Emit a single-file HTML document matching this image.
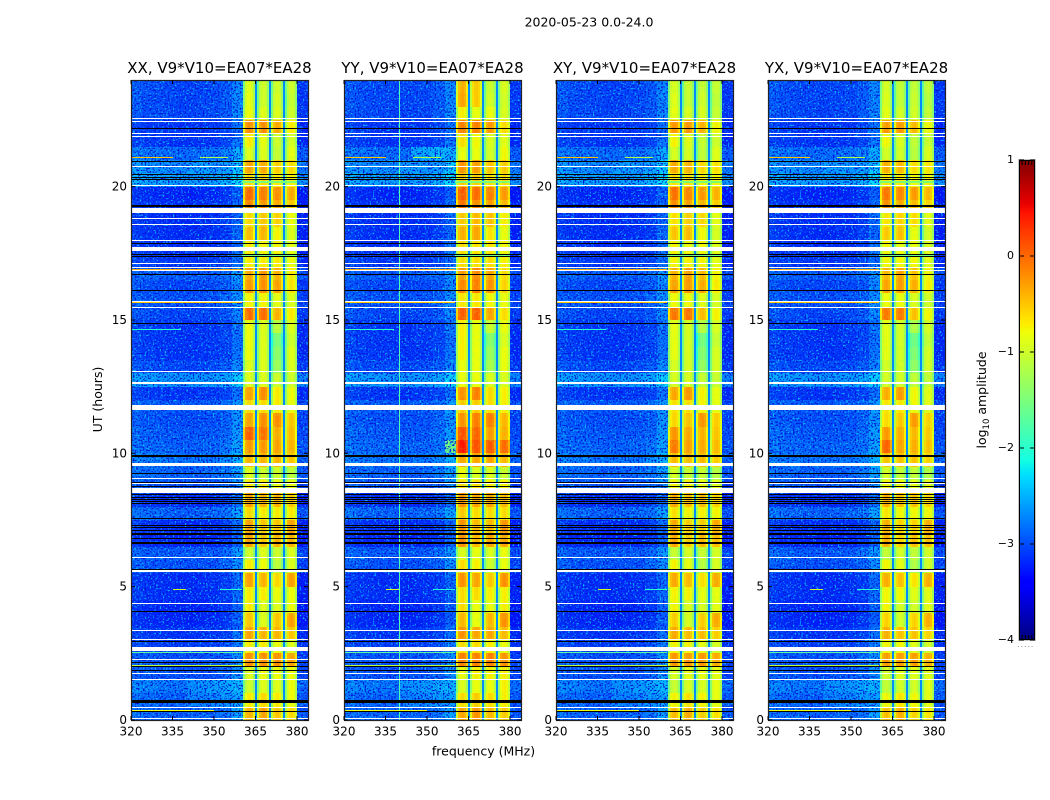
<!DOCTYPE html>
<html lang="en">
<head>
<meta charset="utf-8">
<title>2020-05-23 spectrogram</title>
<style>
html,body{margin:0;padding:0;background:#fff;}
#chart{display:block;width:1050px;height:800px;}
text{font-family:"DejaVu Sans","Liberation Sans",sans-serif;fill:#000;}
</style>
</head>
<body>
<svg id="chart" xmlns="http://www.w3.org/2000/svg" width="1050" height="800" viewBox="0 0 1050 800">
  <defs>
    <!-- Decorative speckle only: it never alters the data arrays below -->
    <filter id="speck-light" x="0" y="0" width="100%" height="100%" color-interpolation-filters="sRGB">
      <feTurbulence type="fractalNoise" baseFrequency="0.6" numOctaves="1" seed="4"/>
      <feColorMatrix type="matrix" values="0 0 0 0 0.05  0 0 0 0 0.72  0 0 0 0 1  7 0 0 0 -3.9"/>
    </filter>
    <filter id="speck-dark" x="0" y="0" width="100%" height="100%" color-interpolation-filters="sRGB">
      <feTurbulence type="fractalNoise" baseFrequency="0.6" numOctaves="1" seed="11"/>
      <feColorMatrix type="matrix" values="0 0 0 0 0  0 0 0 0 0.1  0 0 0 0 0.85  7 0 0 0 -3.6"/>
    </filter>
    <filter id="speck-band" x="0" y="0" width="100%" height="100%" color-interpolation-filters="sRGB">
      <feTurbulence type="fractalNoise" baseFrequency="0.3" numOctaves="2" seed="7"/>
      <feColorMatrix type="matrix" values="0 0 0 0 0.6  0 0 0 0 1  0 0 0 0 0.25  4 0 0 0 -2.1"/>
    </filter>
  </defs>
  <text x="589" y="26.5" font-size="12.5" text-anchor="middle">2020-05-23 0.0-24.0</text>
  <text x="483.5" y="755.5" font-size="12.5" text-anchor="middle">frequency (MHz)</text>
  <text x="0" y="0" font-size="12.5" text-anchor="middle" transform="translate(102,399.5) rotate(-90)">UT (hours)</text>
  <text x="0" y="0" font-size="12.5" text-anchor="middle" transform="translate(986,400) rotate(-90)">log<tspan font-size="8.5" dy="3">10</tspan><tspan dy="-3"> amplitude</tspan></text>
  <g id="panels"></g>
  <g id="colorbar"></g>
</svg>
<script>
/* ---------- data ---------- */
const panelNames = ['XX', 'YY', 'XY', 'YX'];
const panelLefts = [131, 344, 556, 768];
const xTicks = [320, 335, 350, 365, 380];
const yTicks = [0, 5, 10, 15, 20];
const colorTicks = [1, 0, -1, -2, -3, -4];

/* half-hour rows, index 0 = 0.0-0.5 UT, values are log10 amplitude */
const bgLevel = [-2.85,-2.85,-2.75,-2.95,-2.95,-3.05,-3.1,-3.2,-3.2,-3.15,-3.15,-2.95,-2.9,-3.2,-3.15,-2.85,-3.15,-2.95,-2.85,-2.75,-2.85,-2.9,-2.95,-2.9,-3.1,-2.6,-3.0,-3.1,-3.1,-3.1,-3.0,-2.95,-3.0,-2.9,-3.1,-3.15,-3.15,-3.15,-3.15,-3.2,-2.55,-2.65,-2.8,-3.1,-3.1,-3.0,-3.0,-3.0];
const band1 = [-0.4,-0.7,-1.0,-0.9,-0.2,-0.7,-0.3,-0.5,-0.7,-0.7,-0.3,-0.7,-1.0,-0.3,-0.3,-0.6,-0.3,-0.7,-0.9,-0.4,-0.25,0.05,-0.3,-0.6,-0.3,-0.9,-0.9,-0.8,-0.8,-0.8,-0.02,-0.75,-0.25,-0.35,-0.7,-0.7,-0.45,-0.6,-0.15,0.0,-0.6,-0.3,-0.9,-0.7,-0.2,-0.8,-0.85,-0.9];
const band2 = [-0.3,-0.6,-0.9,-0.8,-0.2,-0.7,-0.4,-0.9,-0.9,-0.7,-0.4,-0.8,-0.9,-0.5,-0.5,-0.7,-0.4,-0.7,-1.0,-0.4,-0.25,-0.05,-0.2,-0.6,-0.2,-0.9,-0.9,-0.9,-0.9,-0.9,-0.02,-0.75,-0.2,-0.25,-0.7,-0.75,-0.4,-0.5,-0.25,-0.1,-0.6,-0.35,-0.9,-0.85,-0.2,-0.9,-1.0,-1.0];
const band3 = [-0.5,-0.7,-0.9,-0.8,-0.2,-0.8,-0.4,-0.5,-0.9,-0.8,-0.6,-1.1,-1.0,-0.4,-0.5,-0.7,-0.4,-0.8,-1.0,-0.4,-0.3,-0.35,-0.2,-0.7,-0.7,-1.0,-1.3,-1.4,-1.5,-1.1,-0.4,-0.85,-0.3,-0.4,-0.7,-0.75,-0.75,-0.55,-0.35,-0.2,-0.7,-0.55,-1.05,-1.0,-0.35,-0.9,-0.95,-1.0];
const band4 = [-0.6,-0.8,-0.8,-0.8,-0.3,-0.9,-0.5,-0.3,-0.8,-0.8,-0.3,-0.9,-0.9,-0.4,-0.3,-0.7,-0.5,-0.8,-1.1,-0.5,-0.4,-0.45,-0.5,-0.8,-0.8,-1.0,-0.9,-0.9,-1.0,-0.9,-0.7,-0.9,-0.65,-0.7,-0.8,-0.85,-0.9,-0.8,-0.5,-0.35,-0.7,-0.6,-0.85,-0.95,-0.7,-1.0,-1.05,-1.0];
const bandOffset = [0, 0.08, -0.04, -0.07];

/* across-frequency shapes */
const bandStartsMHz = [360.4, 365.5, 370.5, 375.6];
const bandProfile = [-0.6, -0.1, 0, 0.03, -0.05, -0.35];
const bgProfile = [0.08, 0.02, 0, -0.02, -0.04, -0.04, -0.02, 0, 0.08, 0.3];
const gapLevel = [-2.7];

/* [panel index or -1 for all, h0, h1, f0, f1, delta] */
const patches = [
  [1, 10, 10.5, 360.4, 365, 0.6], [1, 10, 10.5, 365.5, 380, 0.3], [1, 10, 10.5, 355, 360.4, 1.0],
  [1, 23, 24, 360.4, 365, 0.45], [1, 23, 24, 365.5, 370, 0.4], [1, 23, 24, 370.5, 375, -0.1], [1, 21, 21.5, 345, 358, 0.3],
  [2, 10, 10.5, 360.4, 365, 0.2], [3, 10, 10.5, 360.4, 365, 0.35],
  [2, 10.5, 11.5, 360.4, 370, -0.25], [3, 10.5, 11.5, 360.4, 370, -0.25],
  [-1, 0.5, 1.5, 340, 356, 0.15], [-1, 20.5, 21, 340, 350, 0.1]
];
/* [hour, f0, f1, level] narrow-band interference and brief dips */
const rfiLines = [
  [21.1, 320, 335, -0.5], [21.1, 345, 355, -1.2], [16.9, 320, 360, -0.35], [16.13, 320, 345, -0.3],
  [15.67, 320, 360, -0.5], [14.66, 320, 338, -2.0], [2.55, 320, 360, -1.7], [2.06, 320, 360, -1.1],
  [4.9, 335, 340, -1.0], [4.9, 352, 360, -2.0], [0.37, 320, 350, -0.8],
  [20.2, 360, 380, -1.5], [20.16, 360, 380, -1.5], [17.42, 360, 380, -1.6], [22.57, 360, 375, -0.2]
];
/* flagged time ranges in hours */
const whiteBands = [[22.52,22.56],[22.43,22.47],[21.96,22.0],[21.87,21.91],[20.73,20.77],[20.03,20.07],[19.04,19.21],[18.79,18.83],[18.57,18.61],[17.95,17.99],[17.6,17.75],[17.08,17.12],[16.95,16.99],[16.82,16.86],[15.66,15.7],[15.45,15.49],[13.05,13.09],[12.64,12.68],[12.58,12.62],[11.62,11.81],[9.53,9.65],[9.03,9.07],[8.83,8.87],[8.51,8.71],[6.08,6.12],[5.55,5.65],[4.36,4.4],[3.32,3.36],[2.99,3.03],[2.59,2.75],[2.24,2.28],[1.73,1.77],[1.51,1.55],[0.44,0.48],[0.03,0.07]];
const blackBands = [[22.15,22.19],[20.93,20.97],[20.43,20.47],[20.34,20.38],[20.23,20.27],[19.24,19.31],[17.83,17.87],[17.45,17.49],[17.35,17.39],[16.7,16.74],[16.08,16.12],[14.85,14.89],[9.85,9.93],[9.23,9.27],[8.9,8.94],[8.75,8.79],[8.44,8.48],[8.34,8.38],[8.26,8.3],[8.17,8.21],[8.08,8.12],[7.52,7.56],[7.29,7.33],[7.2,7.24],[7.1,7.14],[6.99,7.03],[6.92,6.96],[6.8,6.84],[6.62,6.68],[5.6,5.65],[4.06,4.1],[2.92,2.96],[2.12,2.16],[2.0,2.04],[1.83,1.87],[0.65,0.75],[0.29,0.33]];
/* [panel index, MHz, level] */
const rfiColumns = [[1, 339.9, -1.8]];

/* ---------- scales ---------- */
const SVG_NS = 'http://www.w3.org/2000/svg';
const plotBottom = 720, plotTop = 80, pxPerHour = (plotBottom - plotTop) / 24, pxPerMHz = 2.767, fMax = 384;
const cbLeft = 1019, cbRight = 1035, cbTop = 160, cbBottom = 640;
function xScale(panel, f) { return panelLefts[panel] + (f - 320) * pxPerMHz; }
function yScale(h) { return plotBottom - h * pxPerHour; }
function cbScale(v) { return cbBottom - (v + 4) / 5 * (cbBottom - cbTop); }
function lerpStops(t, stops) {
  if (t <= stops[0][0]) return stops[0][1];
  for (let i = 1; i < stops.length; i++) {
    if (t <= stops[i][0]) {
      const a = stops[i - 1], b = stops[i];
      return a[1] + (b[1] - a[1]) * (t - a[0]) / (b[0] - a[0]);
    }
  }
  return stops[stops.length - 1][1];
}
function jet(v) {
  const t = Math.max(0, Math.min(1, (v + 4) / 5));
  const r = lerpStops(t, [[0.35, 0], [0.66, 1], [0.89, 1], [1, 0.5]]);
  const g = lerpStops(t, [[0.125, 0], [0.375, 1], [0.64, 1], [0.91, 0], [1, 0]]);
  const b = lerpStops(t, [[0, 0.5], [0.11, 1], [0.34, 1], [0.65, 0], [1, 0]]);
  return 'rgb(' + Math.round(r * 255) + ',' + Math.round(g * 255) + ',' + Math.round(b * 255) + ')';
}
function make(tag, attrs, parent) {
  const el = document.createElementNS(SVG_NS, tag);
  for (const k in attrs) el.setAttribute(k, attrs[k]);
  parent.appendChild(el);
  return el;
}
function patchDelta(panel, h, f) {
  let d = 0;
  for (const p of patches) {
    if ((p[0] === -1 || p[0] === panel) && h >= p[1] && h < p[2] && f >= p[3] && f < p[4]) d += p[5];
  }
  return d;
}

/* ---------- panels ---------- */
const panelsRoot = document.getElementById('panels');
const bandRows = [band1, band2, band3, band4];

function addCell(group, panel, f0, f1, h0, h1, v) {
  const x0 = Math.round(xScale(panel, f0)), x1 = Math.round(xScale(panel, f1));
  const y0 = Math.round(yScale(h1)), y1 = Math.round(yScale(h0));
  if (x1 <= x0 || y1 <= y0) return;
  const c = make('rect', { x: x0, y: y0, width: x1 - x0, height: y1 - y0, fill: jet(v), 'shape-rendering': 'crispEdges' }, group);
  
  
}

panelNames.forEach(function (name, p) {
  const g = make('g', {}, panelsRoot);
  
  
  const cells = make('g', {}, g);
  
  

  const bgStep = (bandStartsMHz[0] - 320) / bgProfile.length;
  const bandStep = 4.4 / bandProfile.length;
  bgLevel.forEach(function (bg, r) {
    const h0 = r * 0.5, h1 = h0 + 0.5, hm = h0 + 0.25;
    bgProfile.forEach(function (off, i) {
      const f0 = 320 + i * bgStep, f1 = f0 + bgStep;
      addCell(cells, p, f0, f1, h0, h1, bg + off + patchDelta(p, hm, (f0 + f1) / 2));
    });
    bandStartsMHz.forEach(function (start, b) {
      bandProfile.forEach(function (off, i) {
        const f0 = start + i * bandStep, f1 = f0 + bandStep;
        addCell(cells, p, f0, f1, h0, h1, bandRows[b][r] + bandOffset[p] + off + patchDelta(p, hm, (f0 + f1) / 2));
      });
      if (b < 3) addCell(cells, p, start + 4.4, bandStartsMHz[b + 1], h0, h1, gapLevel[0]);
    });
    addCell(cells, p, 380, fMax, h0, h1, bg - 0.1);
  });

  /* decorative speckle over the background and band regions */
  [[320, bandStartsMHz[0]], [380, fMax]].forEach(function (range) {
    const sx = Math.round(xScale(p, range[0])), sw = Math.round(xScale(p, range[1])) - sx;
    ['speck-light', 'speck-dark'].forEach(function (fid) {
      const s = make('rect', { x: sx, y: plotTop, width: sw, height: plotBottom - plotTop, filter: 'url(#' + fid + ')', fill: '#000' }, g);
      
      
    });
  });
  bandStartsMHz.forEach(function (start) {
    const sx = Math.round(xScale(p, start)), sw = Math.round(xScale(p, start + 4.4)) - sx;
    const s = make('rect', { x: sx, y: plotTop, width: sw, height: plotBottom - plotTop, filter: 'url(#speck-band)', fill: '#000', opacity: 0.25 }, g);
    
    
  });

  rfiColumns.forEach(function (c) {
    if (c[0] !== p) return;
    const col = make('rect', { x: Math.round(xScale(p, c[1])), y: plotTop, width: 1, height: plotBottom - plotTop, fill: jet(c[2]), 'shape-rendering': 'crispEdges' }, g);
    
    
  });
  rfiLines.forEach(function (l) {
    const x0 = Math.round(xScale(p, l[1])), x1 = Math.round(xScale(p, l[2]));
    const line = make('rect', { x: x0, y: Math.round(yScale(l[0])), width: x1 - x0, height: 1, fill: jet(l[3]), 'shape-rendering': 'crispEdges' }, g);
    
    
  });

  const left = Math.round(xScale(p, 320)), right = Math.round(xScale(p, fMax));
  function addFlag(band, color, label) {
    const y0 = yScale(band[1]), y1 = yScale(band[0]);
    const ry = Math.round(y0), rh = Math.max(1, Math.round(y1 - y0));
    const f = make('rect', { x: left, y: ry, width: right - left, height: rh, fill: color, 'shape-rendering': 'crispEdges' }, g);
    
    
  }
  whiteBands.forEach(function (b) { addFlag(b, '#fff', 'flagged-gap'); });
  blackBands.forEach(function (b) { addFlag(b, '#000', 'zero-amplitude-row'); });

  /* frame */
  const frame = make('rect', { x: left + 0.5, y: plotTop + 0.5, width: right - left, height: plotBottom - plotTop, fill: 'none', stroke: '#222', 'stroke-width': 1.2 }, g);
  
  

  /* title */
  const title = make('text', { x: (left + right) / 2, y: 73, 'font-size': 15, 'text-anchor': 'middle' }, g);
  title.textContent = name + ', V9*V10=EA07*EA28';
  
  

  /* ticks */
  xTicks.forEach(function (f) {
    const x = xScale(p, f);
    [[plotBottom, plotBottom - 4], [plotTop, plotTop + 4]].forEach(function (seg) {
      const t = make('line', { x1: x, x2: x, y1: seg[0], y2: seg[1], stroke: '#000', 'stroke-width': 1 }, g);
      
      
    });
    const lab = make('text', { x: x, y: 735.5, 'font-size': 12, 'text-anchor': 'middle' }, g);
    lab.textContent = f;
    
    
  });
  yTicks.forEach(function (h) {
    const y = yScale(h);
    [[left, left + 4], [right, right - 4]].forEach(function (seg) {
      const t = make('line', { x1: seg[0], x2: seg[1], y1: y, y2: y, stroke: '#000', 'stroke-width': 1 }, g);
      
      
    });
    const lab = make('text', { x: left - 4, y: y + 4, 'font-size': 12, 'text-anchor': 'end' }, g);
    lab.textContent = h;
    
    
  });
});

/* ---------- colorbar ---------- */
const cbRoot = document.getElementById('colorbar');
for (let py = cbTop; py < cbBottom; py += 2) {
  const v = 1 - (py + 1 - cbTop) / (cbBottom - cbTop) * 5;
  const s = make('rect', { x: cbLeft, y: py, width: cbRight - cbLeft, height: 2, fill: jet(v), 'shape-rendering': 'crispEdges' }, cbRoot);
  
  
}
const cbHalo = make('rect', { x: cbLeft - 0.5, y: cbTop - 0.5, width: cbRight - cbLeft + 1, height: cbBottom - cbTop + 1, fill: 'none', stroke: '#c8c8c8', 'stroke-width': 1 }, cbRoot);


const cbFrame = make('rect', { x: cbLeft + 0.5, y: cbTop + 0.5, width: cbRight - cbLeft - 1, height: cbBottom - cbTop - 1, fill: 'none', stroke: '#000', 'stroke-width': 1 }, cbRoot);


colorTicks.forEach(function (v) {
  const y = cbScale(v);
  [[cbLeft, cbLeft + 5], [cbRight, cbRight - 5]].forEach(function (seg) {
    const t = make('line', { x1: seg[0], x2: seg[1], y1: y, y2: y, stroke: '#000', 'stroke-width': 1 }, cbRoot);
    
    
  });
  const lab = make('text', { x: cbLeft - 5, y: y + 3, 'font-size': 11, 'text-anchor': 'end' }, cbRoot);
  lab.textContent = v < 0 ? '\u2212' + Math.abs(v) : String(v);
  
  
});
for (let i = 1; i <= 4; i++) {
  const tx = cbLeft + i * (cbRight - cbLeft) / 5;
  [[cbTop, cbTop + 5], [cbBottom, cbBottom - 5]].forEach(function (seg) {
    const t = make('line', { x1: tx, x2: tx, y1: seg[0], y2: seg[1], stroke: '#000', 'stroke-width': 1 }, cbRoot);
    
    
  });
}
const cbDots = make('line', { x1: 1018, x2: 1035, y1: 646.5, y2: 646.5, stroke: '#999', 'stroke-width': 1, 'stroke-dasharray': '1 2.4' }, cbRoot);


</script>
</body>
</html>
